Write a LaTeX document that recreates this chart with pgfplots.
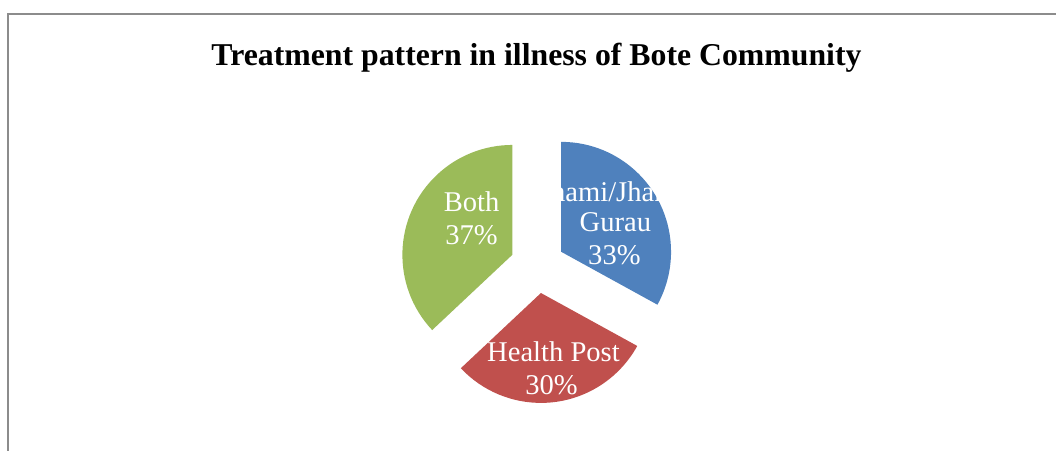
\documentclass[border=0pt]{standalone}
\usepackage{pgfplots}
\usepackage{pgfplotstable}
\usepackage{fontspec}
\setmainfont{Liberation Serif}
\pgfplotsset{compat=1.18}
\usetikzlibrary{calc}

\definecolor{pieblue}{HTML}{4F81BD}
\definecolor{piered}{HTML}{C0504D}
\definecolor{piegreen}{HTML}{9BBB59}
\definecolor{framegray}{HTML}{8C8C8C}

% share of each treatment (percent)
\pgfplotstableread{
label   value
Dhami   33
Health  30
Both    37
}\pietable

\pgfplotstablegetelem{0}{value}\of\pietable \let\va\pgfplotsretval
\pgfplotstablegetelem{1}{value}\of\pietable \let\vb\pgfplotsretval
\pgfplotstablegetelem{2}{value}\of\pietable \let\vc\pgfplotsretval
% slice angles, clockwise from 12 o'clock
\pgfmathsetmacro{\aA}{90-3.6*\va}
\pgfmathsetmacro{\aB}{\aA-3.6*\vb}
\pgfmathsetmacro{\aC}{\aB-3.6*\vc}
\pgfmathsetmacro{\mA}{90-1.8*\va}
\pgfmathsetmacro{\mB}{\aA-1.8*\vb}
\pgfmathsetmacro{\mC}{\aB-1.8*\vc}

\begin{document}
\begin{tikzpicture}
\begin{axis}[
    hide axis,
    scale only axis,
    x=0.5pt, y=0.5pt,
    xmin=0, xmax=1057,
    ymin=0, ymax=451,
    clip=false,
]
\path (axis cs:0,0) rectangle (axis cs:1057,451);
\draw[framegray, line width=1pt] (axis cs:8,0) -- (axis cs:8,437) -- (axis cs:1057,437);

\node[anchor=base, font=\fontsize{15.9}{18}\selectfont\bfseries]
    at (axis cs:537,385) {Treatment pattern in illness of Bote Community};

% exploded slices
\fill[pieblue] ($(axis cs:538,185)+(\mA:13.75pt)$) -- ++(90:55pt)
    arc[start angle=90, end angle=\aA, radius=55pt] -- cycle;
\fill[piered] ($(axis cs:538,185)+(\mB:13.75pt)$) -- ++(\aA:55pt)
    arc[start angle=\aA, end angle=\aB, radius=55pt] -- cycle;
\fill[piegreen] ($(axis cs:538,185)+(\mC:13.75pt)$) -- ++(\aB:55pt)
    arc[start angle=\aB, end angle=\aC, radius=55pt] -- cycle;

% data labels
\begin{scope}[every node/.style={anchor=base, text=white, font=\fontsize{14.3}{16}\selectfont}]
\node at (axis cs:616,249) {Dhami/Jhankri};
\node at (axis cs:616,219) {Gurau};
\node at (axis cs:615,186) {\va\%};
\node at (axis cs:554,89) {Health Post};
\node at (axis cs:552,56) {\vb\%};
\node at (axis cs:472,239) {Both};
\node at (axis cs:472,206) {\vc\%};
\end{scope}
\end{axis}
\end{tikzpicture}
\end{document}
